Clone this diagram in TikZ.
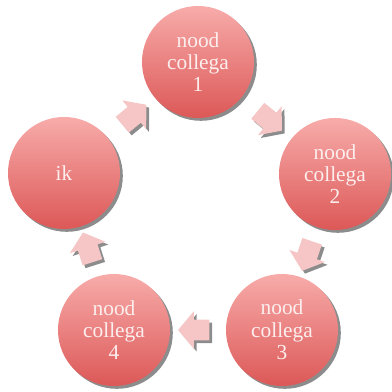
\documentclass[tikz,border=0pt]{standalone}
\usepackage{fontspec}
\setmainfont{Liberation Serif}
\usetikzlibrary{shapes.arrows,shadows}

\definecolor{bolboven}{HTML}{F7ACAA}
\definecolor{bolonder}{HTML}{DC5857}
\definecolor{pijlkleur}{HTML}{F6C5C5}
\definecolor{tekstkleur}{HTML}{FDEEEE}

\tikzset{
  persoon/.style={circle, minimum size=2.8cm, inner sep=0pt,
    top color=bolboven, bottom color=bolonder, draw=none,
    text=tekstkleur, align=center,
    font=\fontsize{15.2}{15.9}\selectfont,
    drop shadow={shadow xshift=0.07cm, shadow yshift=-0.07cm,
      fill=black!75, opacity=0.6}},
  pijl/.style={single arrow, minimum height=0.78cm, inner sep=0.25cm,
    single arrow head extend=0.21cm, single arrow tip angle=100,
    fill=pijlkleur, draw=none, sloped, allow upside down,
    drop shadow={shadow xshift=0.07cm, shadow yshift=-0.07cm,
      fill=black!75, opacity=0.6}},
}

\begin{document}
\begin{tikzpicture}[x=0.025cm, y=-0.025cm]
    \useasboundingbox (0,0) rectangle (392,392) ;

    % de vijf bollen
    \node [persoon] (n1) at (198,62) {nood\\collega\\1} ;
    \node [persoon] (n2) at (335,174) {nood\\collega\\2} ;
    \node [persoon] (n3) at (282,330) {nood\\collega\\3} ;
    \node [persoon] (n4) at (114,330) {nood\\collega\\4} ;
    \node [persoon] (ik) at (64,173) {ik} ;

    % pijlen rondom
    \path (n1) -- node [pijl] (p12) {} (n2) ;
    \path (n2) -- node [pijl] (p23) {} (n3) ;
    \path (n3) -- node [pijl] (p34) {} (n4) ;
    \path (n4) -- node [pijl] (p4i) {} (ik) ;
    \path (ik) -- node [pijl] (pi1) {} (n1) ;
\end{tikzpicture}
\end{document}
